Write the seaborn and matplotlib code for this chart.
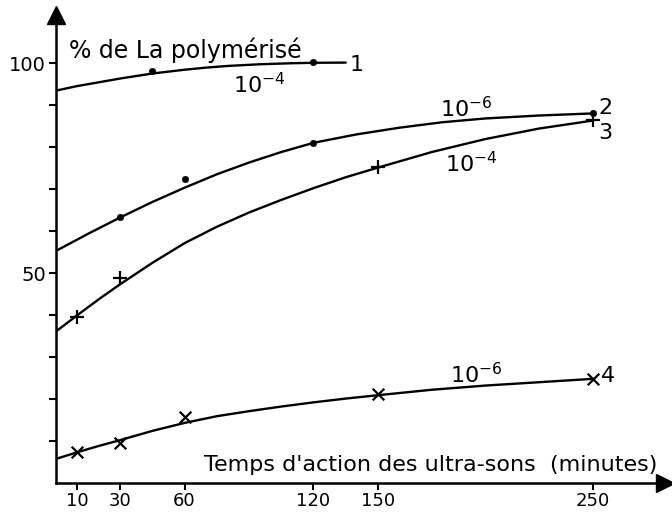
import matplotlib
matplotlib.use("Agg")
import matplotlib.pyplot as plt
import seaborn as sns

# Measured points (minutes, % of La polymerised)
t1 = [45, 120]
p1 = [98.1, 100.2]
t2 = [30, 60, 120, 250]
p2 = [63.3, 72.5, 81.0, 88.1]
t3 = [10, 30, 150, 250]
p3 = [39.6, 48.8, 75.3, 86.5]
t4 = [10, 30, 60, 150, 250]
p4 = [7.3, 9.5, 15.6, 21.2, 24.8]

# Hand-fitted trend curves (nodes along each smooth curve)
c1_t = [0, 10, 20, 30, 45, 60, 70, 80, 95, 110, 120, 135]
c1_p = [93.4, 94.5, 95.4, 96.3, 97.5, 98.4, 98.9, 99.3, 99.7, 99.95, 100.05, 100.1]
c2_t = [0, 15, 30, 45, 60, 75, 90, 105, 120, 140, 160, 180, 200, 225, 250]
c2_p = [55.2, 59.3, 63.2, 66.9, 70.3, 73.5, 76.3, 78.8, 81.0, 83.0, 84.6, 85.9, 86.8, 87.5, 88.0]
c3_t = [0, 10, 20, 30, 45, 60, 75, 90, 105, 120, 135, 150, 175, 200, 225, 250]
c3_p = [36.0, 39.9, 43.7, 47.3, 52.4, 57.1, 61.0, 64.4, 67.4, 70.2, 72.8, 75.1, 78.8, 81.9, 84.4, 86.3]
c4_t = [0, 10, 20, 30, 45, 60, 75, 90, 105, 120, 135, 150, 175, 200, 225, 250]
c4_p = [5.7, 7.3, 8.8, 10.2, 12.4, 14.3, 15.9, 17.1, 18.2, 19.2, 20.1, 20.9, 22.2, 23.2, 24.0, 24.8]

x_ticks = [10, 30, 60, 120, 150, 250]
y_labels = {50: "50", 100: "100"}

sns.set_theme(style="ticks")
plt.rcParams["font.family"] = ["DejaVu Sans"]
plt.rcParams["text.color"] = "black"
plt.rcParams["axes.labelcolor"] = "black"

fig = plt.figure(figsize=(6.72, 5.13), dpi=100)
ax = fig.add_axes([0.0826, 0.0585, 0.907, 0.912])

lw = 1.7
for ct, cp in [(c1_t, c1_p), (c2_t, c2_p), (c3_t, c3_p), (c4_t, c4_p)]:
    sns.lineplot(x=ct, y=cp, ax=ax, color="black", linewidth=lw,
                 sort=False, estimator=None)

sns.scatterplot(x=t1 + t2, y=p1 + p2, ax=ax, color="black", marker="o",
                s=22, edgecolor="black", zorder=5)
sns.scatterplot(x=t3, y=p3, ax=ax, color="black", marker="+", s=110,
                linewidth=1.6, zorder=5)
sns.scatterplot(x=t4, y=p4, ax=ax, color="black", marker="x", s=70,
                linewidth=1.6, zorder=5)

ax.set_xlim(0, 283.5)
ax.set_ylim(0, 111.4)

sns.despine(ax=ax)
for s in ["left", "bottom"]:
    ax.spines[s].set_linewidth(1.8)
    ax.spines[s].set_color("black")

ax.set_xticks(x_ticks)
ax.set_xticklabels([str(v) for v in x_ticks])
ax.set_yticks(list(range(10, 101, 10)))
ax.set_yticklabels([y_labels.get(v, "") for v in range(10, 101, 10)])
ax.tick_params(axis="both", direction="out", length=5, width=1.5,
               color="black", labelsize=13, labelcolor="black", pad=1.5)
ax.tick_params(axis="y", labelsize=14, pad=2)

# Axis arrows
ax.plot(1, 0, ">", color="black", markersize=13, transform=ax.get_yaxis_transform(),
        clip_on=False)
ax.plot(0, 1, "^", color="black", markersize=13, transform=ax.get_xaxis_transform(),
        clip_on=False)

ax.text(6.5, 103.0, "% de La polymérisé", fontsize=17, ha="left", va="center")
ax.text(69, 4.4, "Temps d'action des ultra-sons  (minutes)", fontsize=16,
        ha="left", va="center")

# Curve numbers
ax.text(137, 99.5, "1", fontsize=16, ha="left", va="center")
ax.text(252.5, 89.3, "2", fontsize=16, ha="left", va="center")
ax.text(252.5, 83.4, "3", fontsize=16, ha="left", va="center")
ax.text(253.5, 25.4, "4", fontsize=16, ha="left", va="center")

# Concentration labels
ax.text(82.6, 92.9, r"$10^{-4}$", fontsize=16, ha="left", va="baseline")
ax.text(178.8, 87.2, r"$10^{-6}$", fontsize=16, ha="left", va="baseline")
ax.text(181.2, 73.9, r"$10^{-4}$", fontsize=16, ha="left", va="baseline")
ax.text(183.5, 23.7, r"$10^{-6}$", fontsize=16, ha="left", va="baseline")

fig.savefig("out.png", dpi=100, facecolor="white")
